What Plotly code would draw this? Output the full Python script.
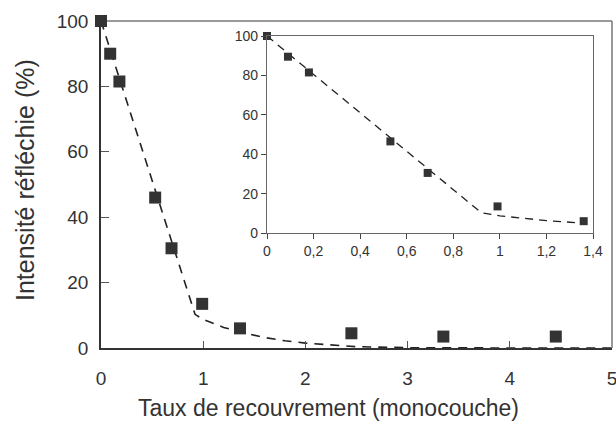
import plotly.graph_objects as go

# Measured reflected intensity vs. coverage
coverage = [0, 0.09, 0.18, 0.53, 0.69, 0.99, 1.36, 2.45, 3.35, 4.45]
intensity = [100, 90, 81.5, 46, 30.5, 13.5, 6, 4.5, 3.5, 3.5]

# Same measurements, low-coverage range shown in the inset
coverage_zoom = [0, 0.09, 0.18, 0.53, 0.69, 0.99, 1.36]
intensity_zoom = [100, 89.5, 81.5, 46.5, 30.5, 13.5, 6]

# Model curve (dashed)
model_x = [0, 0.2, 0.4, 0.6, 0.8, 0.92, 1.0, 1.2, 1.4, 1.6, 1.8, 2.0, 2.5, 3.0, 4.0, 5.0]
model_y = [100, 80.5, 61, 41.5, 22, 10.3, 8.7, 6.3, 4.6, 3.2, 2.2, 1.5, 0.4, 0.1, 0, 0]

model_x_zoom = [0, 0.2, 0.4, 0.6, 0.8, 0.92, 1.0, 1.2, 1.36]
model_y_zoom = [100, 80.5, 61, 41.5, 22, 10.3, 8.7, 6.3, 5]

main_xticks = [0, 1, 2, 3, 4, 5]
main_yticks = [0, 20, 40, 60, 80, 100]
zoom_xticks = [0, 0.2, 0.4, 0.6, 0.8, 1.0, 1.2, 1.4]
zoom_xlabels = ["0", "0,2", "0,4", "0,6", "0,8", "1", "1,2", "1,4"]
zoom_yticks = [0, 20, 40, 60, 80, 100]

x_title = "Taux de recouvrement (monocouche)"
y_title = "Intensité réfléchie (%)"

ink = "#333333"
font = "Liberation Sans, Arial, sans-serif"

W, H = 616, 423
L, R, T, B = 101, 612, 21, 348
IL, IR, IT, IB = 267, 593, 36, 233

fig = go.Figure()

fig.add_trace(go.Scatter(
    x=model_x, y=model_y, mode="lines",
    line=dict(color="#222222", width=1.6, dash="9px,7px"),
    cliponaxis=False, xaxis="x", yaxis="y", showlegend=False))
fig.add_trace(go.Scatter(
    x=coverage, y=intensity, mode="markers",
    marker=dict(symbol="square", size=12, color=ink),
    cliponaxis=False, xaxis="x", yaxis="y", showlegend=False))

fig.add_trace(go.Scatter(
    x=model_x_zoom, y=model_y_zoom, mode="lines",
    line=dict(color="#222222", width=1.3, dash="8px,6px"),
    cliponaxis=False, xaxis="x2", yaxis="y2", showlegend=False))
fig.add_trace(go.Scatter(
    x=coverage_zoom, y=intensity_zoom, mode="markers",
    marker=dict(symbol="square", size=8, color=ink),
    cliponaxis=False, xaxis="x2", yaxis="y2", showlegend=False))


def px(x):
    return (x - L) / (R - L)


def py(y):
    return (B - y) / (B - T)


fig.update_layout(
    width=W, height=H,
    margin=dict(l=L, r=W - R, t=T, b=H - B, autoexpand=False),
    paper_bgcolor="white", plot_bgcolor="white",
    font=dict(family=font, color=ink),
    xaxis=dict(
        range=[0, 5], tickvals=main_xticks, ticks="inside", ticklen=7,
        tickcolor="#555555", showline=True, linecolor="#333333", linewidth=1.5,
        showgrid=False, zeroline=False, tickfont=dict(size=19, color=ink),
        ticklabelstandoff=12, automargin=False, ticklabeloverflow="allow"),
    yaxis=dict(
        range=[0, 100], tickvals=main_yticks, ticks="inside", ticklen=8,
        tickcolor="#555555", showline=True, linecolor="#333333", linewidth=1.5,
        showgrid=False, zeroline=False, tickfont=dict(size=19, color=ink),
        ticklabelstandoff=7, automargin=False, ticklabeloverflow="allow"),
    xaxis2=dict(
        domain=[px(IL), px(IR)], anchor="y2", range=[0, 1.4],
        tickvals=zoom_xticks, ticktext=zoom_xlabels, ticks="outside",
        ticklen=5, tickcolor="#444444", showline=True, mirror=True,
        linecolor="#666666", linewidth=1.3, showgrid=False, zeroline=False,
        tickfont=dict(size=14, color=ink), automargin=False),
    yaxis2=dict(
        domain=[py(IB), py(IT)], anchor="x2", range=[0, 100],
        tickvals=zoom_yticks, ticks="outside", ticklen=5,
        tickcolor="#444444", showline=True, mirror=True,
        linecolor="#666666", linewidth=1.3, showgrid=False, zeroline=False,
        tickfont=dict(size=14, color=ink), automargin=False),
    shapes=[
        dict(type="line", xref="paper", yref="paper", x0=0, x1=1, y0=1, y1=1,
             line=dict(color="#777777", width=1.5), layer="below"),
        dict(type="line", xref="paper", yref="paper", x0=1, x1=1, y0=0, y1=1,
             line=dict(color="#777777", width=1.5), layer="below"),
    ],
    annotations=[
        dict(text=x_title, xref="paper", yref="paper",
             x=0.5 * (px(142) + px(515)), y=py(408), showarrow=False,
             xanchor="center", yanchor="middle",
             font=dict(size=23, color=ink)),
        dict(text=y_title, xref="paper", yref="paper",
             x=px(25), y=py(180), showarrow=False, textangle=-90,
             xanchor="center", yanchor="middle",
             font=dict(size=25, color=ink)),
    ],
)

fig.write_html("out.html")
